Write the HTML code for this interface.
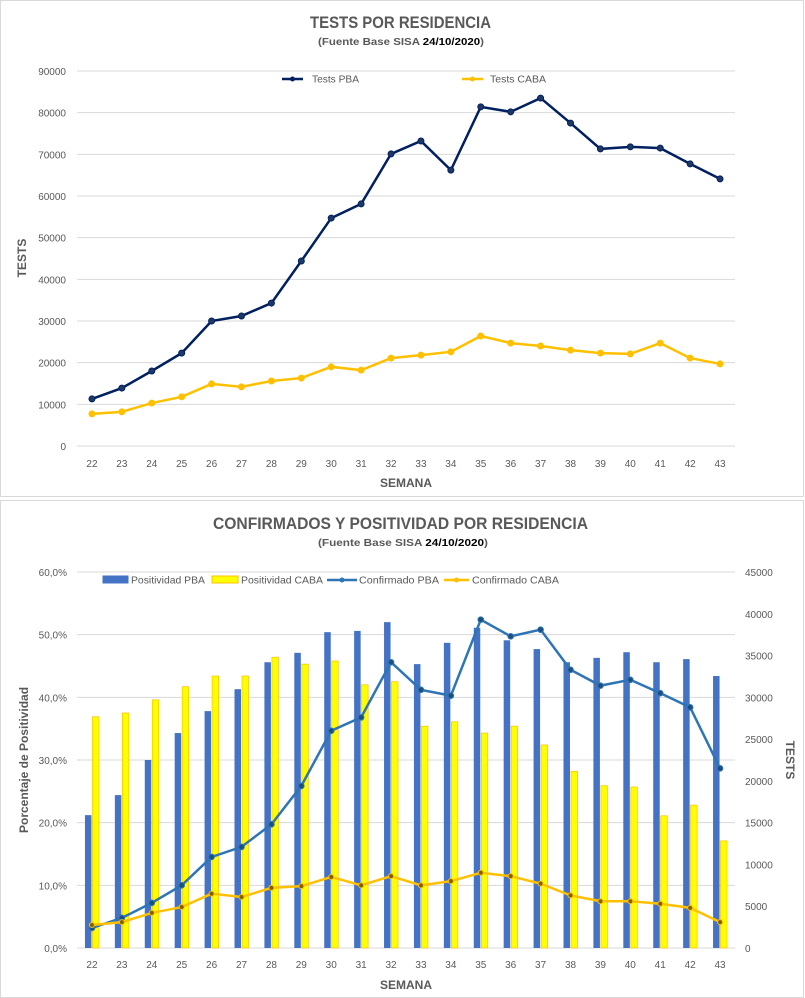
<!DOCTYPE html>
<html><head><meta charset="utf-8"><style>
body{margin:0;background:#fff;font-family:"Liberation Sans",sans-serif;}
svg{display:block}
text{font-family:"Liberation Sans",sans-serif}
</style></head><body>
<svg id="c" width="805" height="998">
<rect x="0.5" y="0.5" width="803" height="496" fill="#fff" stroke="#d9d9d9"/>
<rect x="0.5" y="500.5" width="803" height="497" fill="#fff" stroke="#d9d9d9"/>
<text x="310" y="28" textLength="181" lengthAdjust="spacingAndGlyphs" font-size="17" font-weight="bold" fill="#595959">TESTS POR RESIDENCIA</text>
<text x="318" y="45" textLength="166" lengthAdjust="spacingAndGlyphs" font-size="10" font-weight="bold" fill="#595959">(Fuente Base SISA <tspan fill="#000">24/10/2020</tspan>)</text>
<text x="213" y="529" textLength="375" lengthAdjust="spacingAndGlyphs" font-size="17" font-weight="bold" fill="#595959">CONFIRMADOS Y POSITIVIDAD POR RESIDENCIA</text>
<text x="318" y="546" textLength="170" lengthAdjust="spacingAndGlyphs" font-size="10" font-weight="bold" fill="#595959">(Fuente Base SISA <tspan fill="#000">24/10/2020</tspan>)</text>
<g id="top"></g><g id="bot"></g>
</svg>
<script>
const weeks=[22,23,24,25,26,27,28,29,30,31,32,33,34,35,36,37,38,39,40,41,42,43];
const testsPBA=[11300,13900,18000,22300,30000,31200,34300,44400,54700,58100,70100,73200,66200,81400,80200,83500,77500,71300,71800,71500,67700,64100];
const testsCABA=[7700,8200,10300,11800,14900,14200,15600,16300,19000,18200,21100,21800,22600,26400,24700,24000,23000,22300,22100,24700,21100,19700];
const topTicks=[0,10000,20000,30000,40000,50000,60000,70000,80000,90000];
const posPBA=[21.2,24.4,30.0,34.3,37.8,41.3,45.6,47.1,50.4,50.6,52.0,45.3,48.7,51.1,49.1,47.7,45.6,46.3,47.2,45.6,46.1,43.4];
const posCABA=[36.9,37.5,39.6,41.7,43.4,43.4,46.4,45.3,45.8,42.0,42.5,35.4,36.1,34.3,35.4,32.4,28.2,25.9,25.7,21.1,22.8,17.1];
const confPBA=[2400,3600,5400,7500,10900,12100,14800,19400,26000,27600,34200,30900,30200,39300,37300,38100,33300,31400,32100,30500,28800,21500];
const confCABA=[2750,3100,4200,4900,6500,6100,7200,7400,8500,7500,8600,7500,8000,9000,8600,7700,6300,5600,5600,5300,4800,3100];
const pctTicks=["0,0%","10,0%","20,0%","30,0%","40,0%","50,0%","60,0%"];
const rightTicks=[0,5000,10000,15000,20000,25000,30000,35000,40000,45000];

const NS="http://www.w3.org/2000/svg";
function mk(p,t,a,txt){const e=document.createElementNS(NS,t);for(const k in a)e.setAttribute(k,a[k]);if(txt!==undefined)e.textContent=txt;p.appendChild(e);return e;}
const x0=77,x1=735,step=(x1-x0)/weeks.length;
const xc=i=>x0+step*(i+0.5);

const T=document.getElementById('top');
const ty=v=>446-v/90000*375;
topTicks.forEach(v=>{
 const l=mk(T,'line',{x1:x0,x2:x1,y1:ty(v),y2:ty(v),stroke:'#d9d9d9'});
 
 
 const t=mk(T,'text',{x:66,y:ty(v)+4,'text-anchor':'end','font-size':10,fill:'#595959'},v);
 
 
});
weeks.forEach((w,i)=>{
 const t=mk(T,'text',{x:xc(i),y:467,'text-anchor':'middle','font-size':10,fill:'#595959'},w);
 
 
});
function series(G,vals,yf,color,name,mcolor,r){
 const p=mk(G,'polyline',{points:vals.map((v,i)=>xc(i)+','+yf(v)).join(' '),fill:'none',stroke:color,'stroke-width':2.5});
 
 
 vals.forEach((v,i)=>{
  const c=mk(G,'circle',{cx:xc(i),cy:yf(v),r:r,fill:mcolor,stroke:color});
  
  
 });
}
series(T,testsCABA,ty,'#ffc000','tests-caba','#ffc000',3);
series(T,testsPBA,ty,'#002060','tests-pba','#1f3864',3);
let t1=mk(T,'text',{x:26,y:258,transform:'rotate(-90 26 258)','text-anchor':'middle','font-size':12,'font-weight':'bold',fill:'#595959'},'TESTS');


let t2=mk(T,'text',{x:406,y:487,'text-anchor':'middle','font-size':12,'font-weight':'bold',fill:'#595959'},'SEMANA');


function legLine(G,x,y,w,color,label,name,tx,tw){
 const g=mk(G,'g',{});
 
 
 mk(g,'line',{x1:x,x2:x+w,y1:y,y2:y,stroke:color,'stroke-width':2.5});
 mk(g,'circle',{cx:x+w/2,cy:y,r:2.5,fill:color});
 mk(g,'text',{x:tx,y:y+3.5,'font-size':10,fill:'#595959',textLength:tw,lengthAdjust:'spacingAndGlyphs'},label);
}
legLine(T,282,79,21,'#002060','Tests PBA','legend-tests-pba',312,47);
legLine(T,462,79,21,'#ffc000','Tests CABA','legend-tests-caba',490,56);

const B=document.getElementById('bot');
const py=v=>948-v/60*376;
const ry=v=>948-v/45000*376;
pctTicks.forEach((s,i)=>{
 const y=py(i*10);
 const l=mk(B,'line',{x1:x0,x2:x1,y1:y,y2:y,stroke:'#d9d9d9'});
 
 
 const t=mk(B,'text',{x:67,y:y+4,'text-anchor':'end','font-size':10,fill:'#595959'},s);
 
 
});
rightTicks.forEach(v=>{
 const t=mk(B,'text',{x:745,y:ry(v)+4,'font-size':10,fill:'#595959'},v);
 
 
});
weeks.forEach((w,i)=>{
 const t=mk(B,'text',{x:xc(i),y:968,'text-anchor':'middle','font-size':10,fill:'#595959'},w);
 
 
 const b1=mk(B,'rect',{x:xc(i)-7,y:py(posPBA[i]),width:6.5,height:948-py(posPBA[i]),fill:'#4472c4'});
 
 
 const b2=mk(B,'rect',{x:xc(i)+0.5,y:py(posCABA[i]),width:6.5,height:948-py(posCABA[i]),fill:'#ffff00',stroke:'#ffc000','stroke-width':0.7});
 
 
});
series(B,confPBA,ry,'#2e75b6','confirmado-pba','#1f4e79',2.8);
series(B,confCABA,ry,'#ffc000','confirmado-caba','#7f6000',2.5);
let t3=mk(B,'text',{x:28,y:760,transform:'rotate(-90 28 760)','text-anchor':'middle','font-size':12,'font-weight':'bold',fill:'#595959'},'Porcentaje de Positividad');


let t4=mk(B,'text',{x:786,y:760,transform:'rotate(90 786 760)','text-anchor':'middle','font-size':12,'font-weight':'bold',fill:'#595959'},'TESTS');


let t5=mk(B,'text',{x:406,y:989,'text-anchor':'middle','font-size':12,'font-weight':'bold',fill:'#595959'},'SEMANA');


function legBox(x,y,w,fill,stroke,label,name,tx,tw){
 const g=mk(B,'g',{});
 
 
 mk(g,'rect',{x:x,y:y-4,width:w,height:7,fill:fill,stroke:stroke});
 mk(g,'text',{x:tx,y:y+3.5,'font-size':10,fill:'#595959',textLength:tw,lengthAdjust:'spacingAndGlyphs'},label);
}
legBox(103,580,25,'#4472c4','#4472c4','Positividad PBA','legend-positividad-pba',131,74);
legBox(212,580,26,'#ffff00','#ffc000','Positividad CABA','legend-positividad-caba',241,82);
legLine(B,327,580,30,'#2e75b6','Confirmado PBA','legend-confirmado-pba',359,80);
legLine(B,444,580,25,'#ffc000','Confirmado CABA','legend-confirmado-caba',472,87);
</script>
</body></html>
